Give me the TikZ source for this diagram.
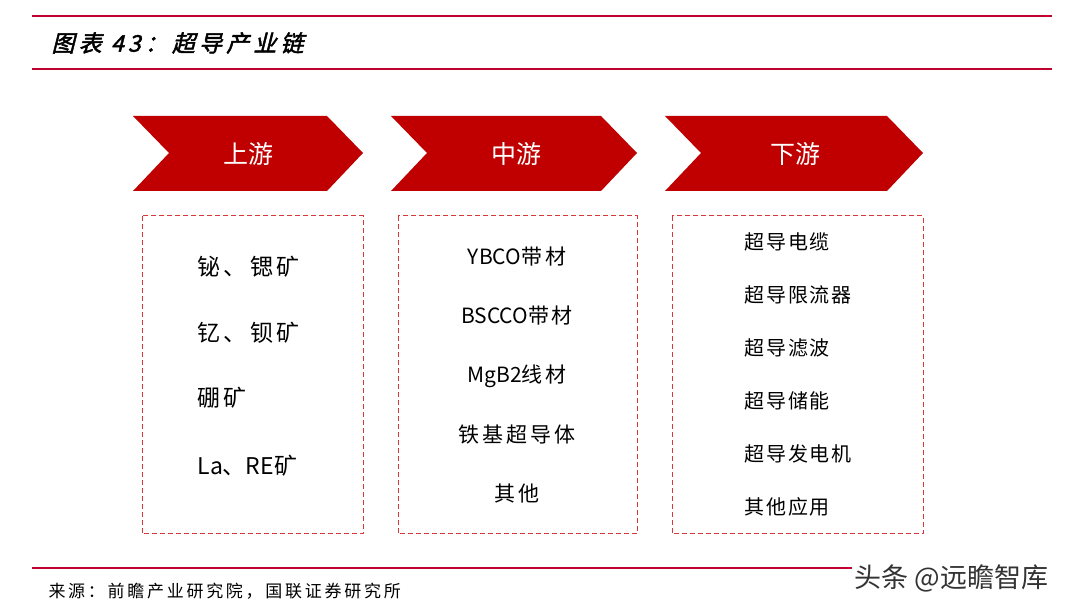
\documentclass[tikz,border=0pt]{standalone}
\usepackage{fontspec}
\usepackage{tikz}
\setmainfont{Noto Sans CJK SC}
\newfontfamily\cjk{Noto Sans CJK SC}
\newfontfamily\cjktitle[FakeSlant=0.25,FakeBold=2,LetterSpace=18]{Noto Sans CJK SC}
\newfontfamily\cjkup[LetterSpace=15]{Noto Sans CJK SC}
\newfontfamily\cjkmid[LetterSpace=14]{Noto Sans CJK SC}
\newfontfamily\cjkdown[LetterSpace=9]{Noto Sans CJK SC}
\newfontfamily\cjkfoot[LetterSpace=16]{Noto Sans CJK SC}
\definecolor{rulered}{HTML}{C0002F}
\definecolor{arrowred}{HTML}{C00000}
\definecolor{boxred}{HTML}{D8393C}
\definecolor{markgray}{HTML}{333333}

\tikzset{
  rule/.style={draw=rulered, line width=2pt},
  chevron/.style={fill=arrowred},
  chevtext/.style={text=white, font=\cjk\fontsize{25}{29}\selectfont},
  dashbox/.style={draw=boxred, line width=1pt, dash pattern=on 5pt off 3pt},
  upitem/.style={anchor=west, font=\cjkup\fontsize{23}{27}\selectfont},
  miditem/.style={font=\cjkmid\fontsize{21}{25}\selectfont},
  downitem/.style={anchor=west, font=\cjkdown\fontsize{20}{24}\selectfont},
}

\begin{document}
\begin{tikzpicture}[x=1pt, y=-1pt]
  \useasboundingbox (0,0) rectangle (1072,609);

  % TITLE:
  \draw[rule] (32,16) -- (1052,16);
  \node[anchor=west, font=\cjktitle\fontsize{23}{27}\selectfont] (title) at (48,43) {图表 43：超导产业链};
  \draw[rule] (32,69) -- (1052,69);

  % CHEVRONS:
  \fill[chevron] (133,116) -- (327,116) -- (363,153) -- (327,191) -- (133,191) -- (169,153) -- cycle;
  \node[chevtext] (up) at (248,154) {上游};
  \fill[chevron] (391,116) -- (601,116) -- (637,153) -- (601,191) -- (391,191) -- (427,153) -- cycle;
  \node[chevtext] (mid) at (516,154) {中游};
  \fill[chevron] (665,116) -- (887,116) -- (923,153) -- (887,191) -- (665,191) -- (701,153) -- cycle;
  \node[chevtext] (down) at (795,154) {下游};

  % BOXES:
  \draw[dashbox] (142,216) rectangle (363,534);
  \draw[dashbox] (398,216) rectangle (637,534);
  \draw[dashbox] (672,216) rectangle (923,534);

  % UPSTREAM
  \node[upitem] (u1) at (194,267) {铋、锶矿};
  \node[upitem] (u2) at (194,333) {钇、钡矿};
  \node[upitem] (u3) at (194,398) {硼矿};
  \node[upitem] (u4) at (194,466) {{\cjk La}、{\cjk RE}矿};

  % MIDSTREAM
  \node[miditem] (m1) at (517,257) {{\cjk YBCO}带材};
  \node[miditem] (m2) at (517,316) {{\cjk BSCCO}带材};
  \node[miditem] (m3) at (517,376) {{\cjk MgB2}线材};
  \node[miditem] (m4) at (517,435) {铁基超导体};
  \node[miditem] (m5) at (517,494) {其他};

  % DOWNSTREAM
  \node[downitem] (d1) at (741,242) {超导电缆};
  \node[downitem] (d2) at (741,295) {超导限流器};
  \node[downitem] (d3) at (741,348) {超导滤波};
  \node[downitem] (d4) at (741,401) {超导储能};
  \node[downitem] (d5) at (741,454) {超导发电机};
  \node[downitem] (d6) at (741,507) {其他应用};

  % FOOTER
  \draw[rule] (32,568) -- (852,568);
  \node[anchor=west, font=\cjkfoot\fontsize{17}{21}\selectfont] (source) at (45,591) {来源：前瞻产业研究院，国联证券研究所};
  \node[anchor=west, text=markgray, font=\cjk\fontsize{27}{31}\selectfont] (mark) at (851,578) {头条 @远瞻智库};
\end{tikzpicture}
\end{document}
